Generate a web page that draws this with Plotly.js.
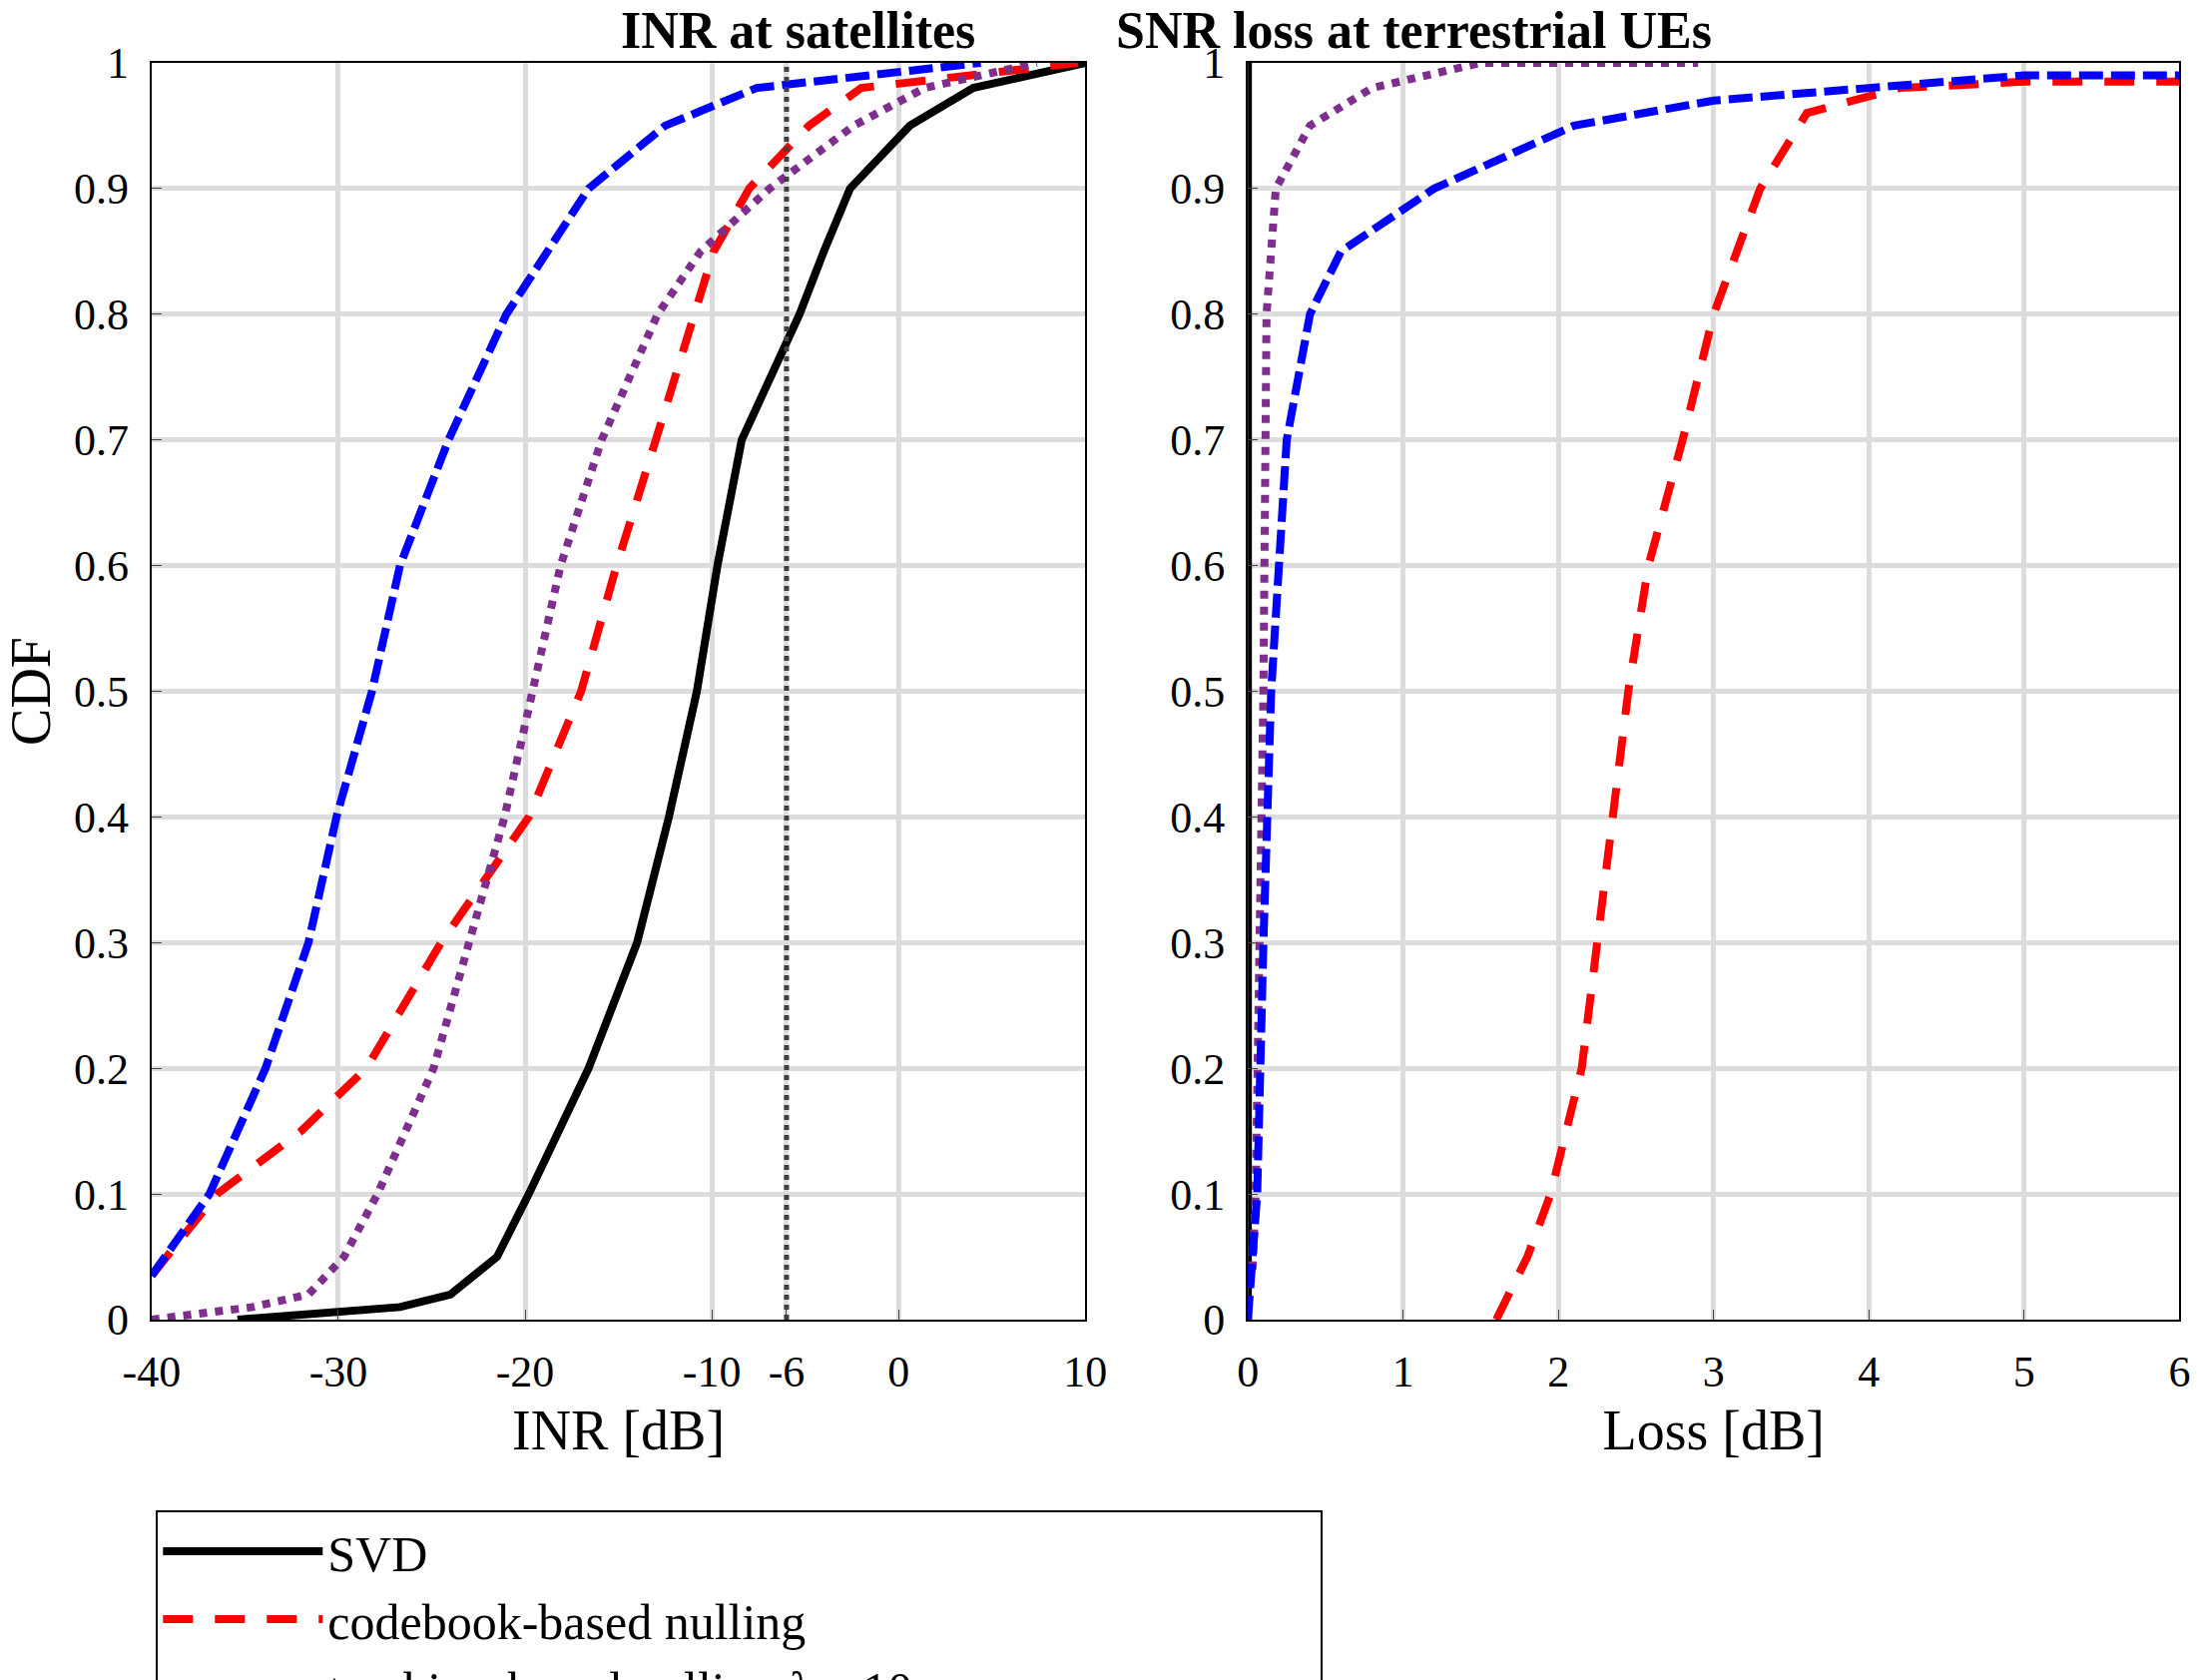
<!DOCTYPE html>
<html><head><script src="https://cdn.plot.ly/plotly-3.0.1.min.js"></script></head>
<body style="margin:0"><div id="c" style="width:2201px;height:1683px"></div>
<script>
const cdfL = [0,0.01,0.02,0.05,0.1,0.2,0.3,0.4,0.5,0.6,0.7,0.8,0.85,0.9,0.95,0.98,1.0];
const svdX = [-35.4,-26.7,-24,-21.5,-19.8,-16.6,-14,-12.3,-10.8,-9.7,-8.4,-5.3,-4,-2.6,0.6,4,10];
const cbY = [0.035,0.1,0.15,0.2,0.3,0.35,0.4,0.5,0.6,0.7,0.8,0.85,0.9,0.95,0.98,1.0];
const cbX = [-40,-36.5,-32,-28.5,-24.5,-22.2,-19.8,-17,-15.1,-13,-11,-9.9,-8,-4.8,-2,9.6];
const t10X = [-40,-34.6,-31.6,-29.7,-27.9,-24.9,-23,-21.1,-19.6,-18.1,-15.9,-12.9,-10.6,-6.9,-2.4,1.4,7.4];
const t100Y = [0.035,0.1,0.2,0.3,0.4,0.5,0.6,0.7,0.8,0.9,0.95,0.98,1.0];
const t100X = [-40,-36.9,-33.9,-31.6,-30.1,-28.2,-26.7,-24.1,-21,-16.6,-12.5,-7.6,4.4];
const lossSvdX = [0,0], lossSvdY = [0,1];
const l10Y = [0.04,0.1,0.5,0.8,0.9,0.95,0.98,1.0,1.0];
const l10X = [0.03,0.05,0.1,0.12,0.18,0.4,0.8,1.5,2.9];
const l100Y = [0,0.1,0.3,0.5,0.7,0.8,0.85,0.9,0.95,0.97,0.98,0.99,0.99];
const l100X = [0,0.06,0.1,0.15,0.25,0.4,0.6,1.2,2.1,3.0,4.0,5.0,6];
const lcbY = [0,0.05,0.1,0.2,0.3,0.5,0.6,0.7,0.8,0.9,0.96,0.98,0.985,0.985];
const lcbX = [1.6,1.8,1.95,2.15,2.25,2.45,2.58,2.8,3.0,3.3,3.6,4.2,5.0,6];
const names = ['SVD','codebook-based nulling','tracking-based nulling <i>λ</i> = 10','tracking-based nulling <i>λ</i> = 10<sup>2</sup>'];
const K='#000', R='#ff0000', P='#7e2f8e', B='#0000ff';
const W=8;
const data = [
 {x:svdX,y:cdfL,name:names[0],line:{color:K,width:W}},
 {x:cbX,y:cbY,name:names[1],line:{color:R,width:W,dash:'30px,22px'}},
 {x:t10X,y:cdfL,name:names[2],line:{color:P,width:W,dash:'dot'}},
 {x:t100X,y:t100Y,name:names[3],line:{color:B,width:W,dash:'24px,8px'}},
 {x:lossSvdX,y:lossSvdY,xaxis:'x2',yaxis:'y2',showlegend:false,line:{color:K,width:W}},
 {x:lcbX,y:lcbY,xaxis:'x2',yaxis:'y2',showlegend:false,line:{color:R,width:W,dash:'30px,22px'}},
 {x:l10X,y:l10Y,xaxis:'x2',yaxis:'y2',showlegend:false,line:{color:P,width:W,dash:'dot'}},
 {x:l100X,y:l100Y,xaxis:'x2',yaxis:'y2',showlegend:false,line:{color:B,width:W,dash:'24px,8px'}}
].map(t=>Object.assign({type:'scatter',mode:'lines'},t));
const F='"Liberation Serif", "Times New Roman", serif';
const ax={showline:true,mirror:true,linecolor:'#000',linewidth:2,gridcolor:'#dcdcdc',gridwidth:5,zeroline:false,ticks:'inside',ticklen:10,tickfont:{family:F,size:44,color:'#000'}};
const yt=[0,0.1,0.2,0.3,0.4,0.5,0.6,0.7,0.8,0.9,1];
const TF={family:F,size:56,color:'#000'};
const layout={
 width:2201,height:1683,margin:{l:0,r:0,t:0,b:0,autoexpand:false},paper_bgcolor:'#fff',plot_bgcolor:'#fff',
 font:{family:F},
 xaxis:Object.assign({},ax,{domain:[0.069,0.494],range:[-40,10],tickvals:[-40,-30,-20,-10,-6,0,10],ticktext:['-40','-30','-20','-10','-6','0','10'],ticklabelstandoff:12,title:{text:'INR [dB]',font:TF,standoff:15}}),
 yaxis:Object.assign({},ax,{domain:[0.2145,0.9626],range:[0,1],tickvals:yt,ticktext:yt.map(String),ticklabelstandoff:12,title:{text:'CDF',font:TF,standoff:15}}),
 xaxis2:Object.assign({},ax,{domain:[0.568,0.992],range:[0,6],anchor:'y2',dtick:1,ticklabelstandoff:12,title:{text:'Loss [dB]',font:TF,standoff:15}}),
 yaxis2:Object.assign({},ax,{domain:[0.2145,0.9626],range:[0,1],anchor:'x2',tickvals:yt,ticktext:yt.map(String),ticklabelstandoff:12}),
 shapes:[{type:'line',xref:'x',yref:'y',x0:-6,x1:-6,y0:0,y1:1,line:{color:'#404040',width:5,dash:'dot'}}],
 annotations:[
  {text:'<b>INR at satellites</b>',xref:'paper',yref:'paper',x:0.2815,y:0.964,yanchor:'bottom',showarrow:false,font:{family:F,size:52,color:'#000'}},
  {text:'<b>SNR loss at terrestrial UEs</b>',xref:'paper',yref:'paper',x:0.78,y:0.964,yanchor:'bottom',showarrow:false,font:{family:F,size:52,color:'#000'}}],
 showlegend:true,
 legend:{orientation:'h',x:0.071,y:0.101,xanchor:'left',yanchor:'top',entrywidth:990,entrywidthmode:'pixels',bordercolor:'#000',borderwidth:2,bgcolor:'#fff',font:{family:F,size:50,color:'#000'},itemwidth:160,tracegroupgap:0}
};
Plotly.newPlot('c',data,layout,{staticPlot:true});
</script></body></html>
